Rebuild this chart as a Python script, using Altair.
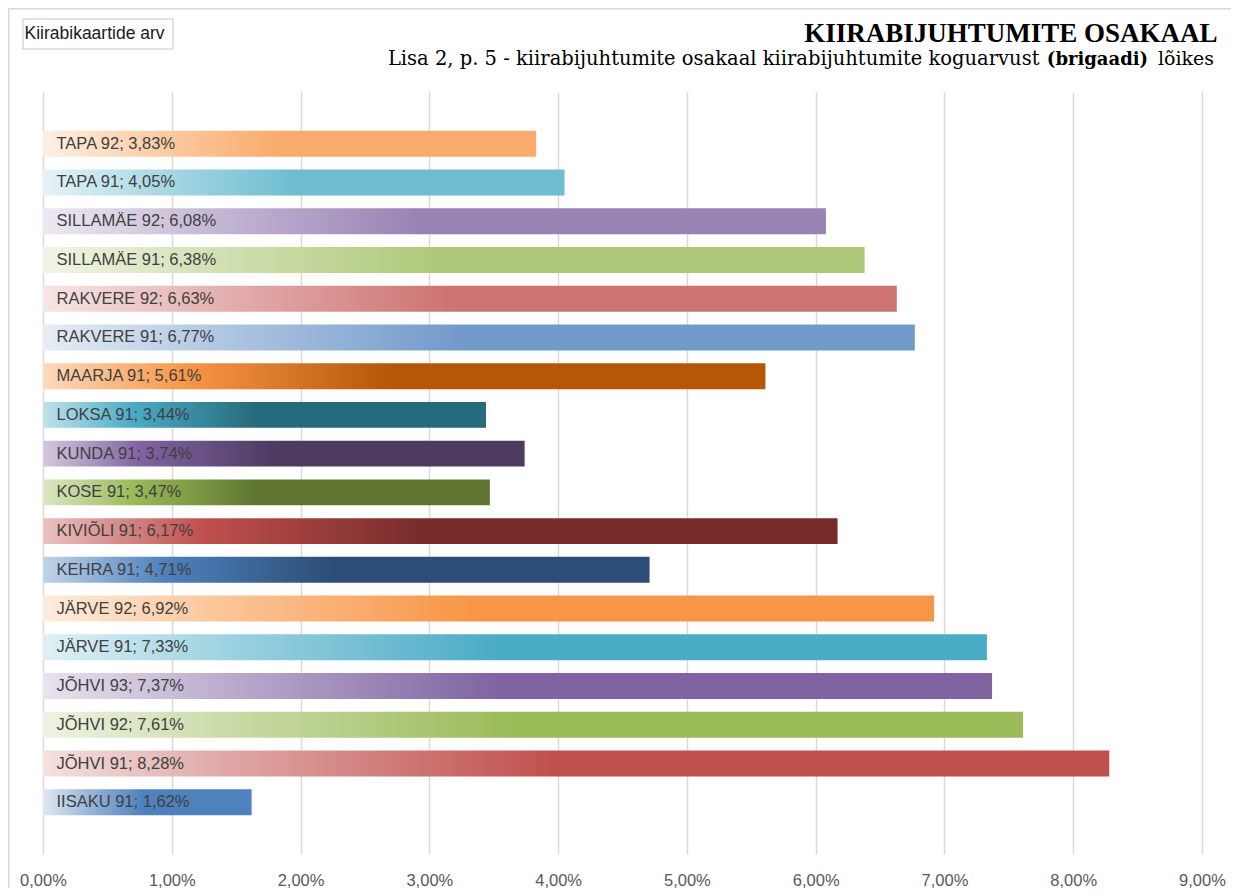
import altair as alt
import pandas as pd

# ---- data (top to bottom as in the reference) ----
categories = ["TAPA 92", "TAPA 91", "SILLAMÄE 92", "SILLAMÄE 91", "RAKVERE 92", "RAKVERE 91",
              "MAARJA 91", "LOKSA 91", "KUNDA 91", "KOSE 91", "KIVIÕLI 91", "KEHRA 91",
              "JÄRVE 92", "JÄRVE 91", "JÕHVI 93", "JÕHVI 92", "JÕHVI 91", "IISAKU 91"]
values_pct = [3.83, 4.05, 6.08, 6.38, 6.63, 6.77, 5.61, 3.44, 3.74, 3.47, 6.17, 4.71,
              6.92, 7.33, 7.37, 7.61, 8.28, 1.62]
tick_values = [0.00, 0.01, 0.02, 0.03, 0.04, 0.05, 0.06, 0.07, 0.08, 0.09]

# ---- styles ----
# (kind, main colour, base colour for dark variants)
bar_styles = [
    ("light", "#F9AB6B", None), ("light", "#6FBDD1", None), ("light", "#9983B5", None),
    ("light", "#AFC97A", None), ("light", "#CD7371", None), ("light", "#729ACA", None),
    ("dark", "#B65708", "#F79646"), ("dark", "#276A7C", "#4BACC6"), ("dark", "#4D3B62", "#8064A2"),
    ("dark", "#5F7530", "#9BBB59"), ("dark", "#772C2A", "#C0504D"), ("dark", "#2C4D75", "#4F81BD"),
    ("base", "#F79646", None), ("base", "#4BACC6", None), ("base", "#8064A2", None),
    ("base", "#9BBB59", None), ("base", "#C0504D", None), ("base", "#4F81BD", None),
]


def mix_white(hexc, w):
    h = hexc.lstrip("#")
    r, g, b = int(h[0:2], 16), int(h[2:4], 16), int(h[4:6], 16)
    r = round(r + (255 - r) * w)
    g = round(g + (255 - g) * w)
    b = round(b + (255 - b) * w)
    return "#{:02X}{:02X}{:02X}".format(r, g, b)


def gradient_for(style):
    kind, c, base = style
    if kind == "dark":
        stops = [(0.0, mix_white(base, 0.65)), (0.2, base), (0.48, c), (1.0, c)]
    else:
        stops = [(0.0, mix_white(c, 0.82)), (0.2, mix_white(c, 0.45)), (0.48, c), (1.0, c)]
    return {"gradient": "linear", "x1": 0, "x2": 1, "y1": 0, "y2": 0,
            "stops": [{"offset": o, "color": col} for o, col in stops]}


df = pd.DataFrame({"cat": categories, "val": [v / 100 for v in values_pct]})
df["label"] = [f"{c}; {v:.2f}".replace(".", ",") + "%" for c, v in zip(categories, values_pct)]

W, H = 1159, 762

x_enc = alt.X("val:Q",
              scale=alt.Scale(domain=[0, 0.09], nice=False, zero=True),
              axis=alt.Axis(values=tick_values, title=None, grid=True, gridColor="#D9D9D9",
                            gridWidth=1.5, domain=False, ticks=False, labelFontSize=16.5,
                            labelFont="Liberation Sans", labelColor="#595959", labelPadding=18,
                            labelFlush=False,
                            labelExpr="replace(format(datum.value, '.2%'), '.', ',')"))
y_enc = alt.Y("cat:N", sort=categories,
              scale=alt.Scale(domain=categories, paddingInner=0.33, paddingOuter=1.0),
              axis=None)

base = alt.Chart(df)
layers = []
for cat, style in zip(categories, bar_styles):
    layers.append(
        base.transform_filter(alt.datum.cat == cat)
        .mark_bar(color=gradient_for(style), cornerRadius=0)
        .encode(x=x_enc, y=y_enc)
    )

texts = base.mark_text(align="left", baseline="middle", fontSize=16.5, font="Liberation Sans",
                       color="#404040").encode(
    x=alt.value(13.5), y=alt.Y("cat:N", sort=categories), text="label:N")

one = pd.DataFrame({"k": [0]})
deco = alt.Chart(one)

frame = deco.mark_rect(fill="transparent", stroke="#D9D9D9", strokeWidth=1.5).encode(
    x=alt.value(-34.2), x2=alt.value(W + 60), y=alt.value(-83.2), y2=alt.value(H + 60))

box = deco.mark_rect(fill="white", stroke="#D9D9D9", strokeWidth=1.5).encode(
    x=alt.value(-20), x2=alt.value(130), y=alt.value(-73), y2=alt.value(-43))
box_text = deco.mark_text(align="left", baseline="alphabetic", fontSize=17.5, font="Liberation Sans",
                          color="#1A1A1A").encode(
    x=alt.value(-18.5), y=alt.value(-53), text=alt.value("Kiirabikaartide arv"))

title = deco.mark_text(align="right", baseline="alphabetic", fontSize=27, font="Liberation Serif",
                       fontWeight="bold", color="#000000").encode(
    x=alt.value(1174.5), y=alt.value(-50.5), text=alt.value("KIIRABIJUHTUMITE OSAKAAL"))
sub1 = deco.mark_text(align="right", baseline="alphabetic", fontSize=19.5, font="DejaVu Serif",
                      color="#000000").encode(
    x=alt.value(996.5), y=alt.value(-27.5),
    text=alt.value("Lisa 2, p. 5 - kiirabijuhtumite osakaal kiirabijuhtumite koguarvust"))
sub2 = deco.mark_text(align="center", baseline="alphabetic", fontSize=18, font="DejaVu Serif",
                      fontWeight="bold", color="#000000").encode(
    x=alt.value(1054.5), y=alt.value(-27.5), text=alt.value("(brigaadi)"))
sub3 = deco.mark_text(align="left", baseline="alphabetic", fontSize=19, font="DejaVu Serif",
                      color="#000000").encode(
    x=alt.value(1115), y=alt.value(-27.5), text=alt.value("lõikes"))

chart = alt.layer(frame, *layers, texts, box, box_text, title, sub1, sub2, sub3).properties(
    width=W, height=H,
    padding={"left": 35, "top": 84, "right": 29, "bottom": 34},
    autosize=alt.AutoSizeParams(type="none"),
    background="white",
).configure_view(strokeWidth=0)

chart.save("out.html", embed_options={"renderer": "svg", "actions": False})
